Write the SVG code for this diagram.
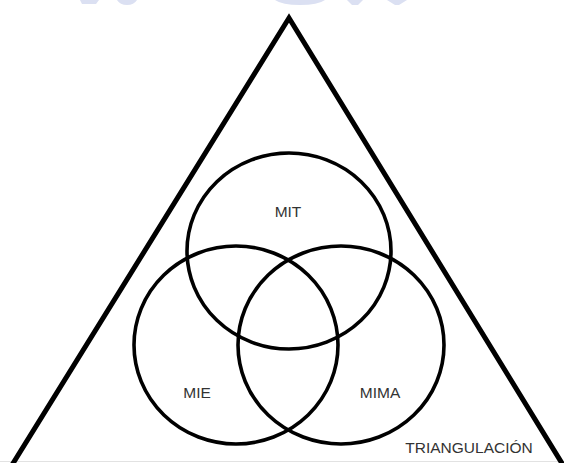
<svg xmlns="http://www.w3.org/2000/svg" width="564" height="463" viewBox="0 0 564 463">
<style>
.tri{fill:none;stroke:#000;stroke-width:5;stroke-linejoin:miter}
.c{fill:none;stroke:#000;stroke-width:3.6}
.t{font-family:"Liberation Sans",Arial,sans-serif;font-size:15.5px;fill:#333;text-anchor:middle}
.wm{fill:#dbe0f2}
</style>
<rect width="564" height="463" fill="#fff"/>
<g id="watermark">
<path class="wm" d="M80 0 H99 L96 4 H82 Z"/>
<path class="wm" d="M117 0 H137 Q134 5 127 5 Q120 5 117 0 Z"/>
<path class="wm" d="M275 0 H325 Q318 5 300 5 Q282 5 275 0 Z"/>
<path class="wm" d="M347 0 H363 L358 5 H352 Z"/>
<path class="wm" d="M387 0 H407 L399 5 H395 Z"/>
</g>
<line x1="0" y1="461.5" x2="564" y2="461.5" stroke="#e2e2e2" stroke-width="1"/>
<g id="triangle">
<polyline class="tri" points="12,465 289,18 563,465"/>
</g>
<g id="mit">
<ellipse class="c" cx="289" cy="251" rx="102" ry="98"/>
<text class="t" x="288" y="217">MIT</text>
</g>
<g id="mie">
<ellipse class="c" cx="236" cy="345" rx="102" ry="99"/>
<text class="t" x="197" y="398">MIE</text>
</g>
<g id="mima">
<ellipse class="c" cx="341" cy="345" rx="103" ry="99"/>
<text class="t" x="380" y="398">MIMA</text>
</g>
<g id="label">
<text class="t" x="469" y="453">TRIANGULACIÓN</text>
</g>
</svg>
